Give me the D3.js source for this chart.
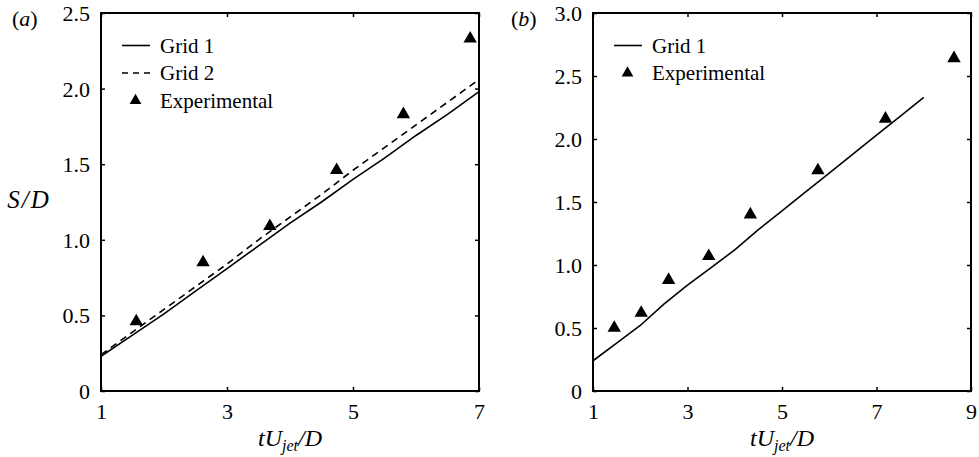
<!DOCTYPE html>
<html>
<head>
<meta charset="utf-8">
<script src="https://cdn.jsdelivr.net/npm/d3@7"></script>
</head>
<body style="margin:0;padding:0;background:#fff">
<svg id="chart" width="979" height="457" font-family="Liberation Serif"></svg>
<script>
// ---- Data ----
// Panel (a)
const aXTicks = [1, 3, 5, 7];
const aYTicks = [0, 0.5, 1.0, 1.5, 2.0, 2.5];
const aYTickLabels = ["0", "0.5", "1.0", "1.5", "2.0", "2.5"];
const aGrid1X = [1, 1.5, 2, 2.5, 3, 3.5, 4, 4.5, 5, 5.5, 6, 6.5, 7];
const aGrid1Y = [0.23, 0.37, 0.51, 0.66, 0.81, 0.96, 1.11, 1.25, 1.40, 1.54, 1.69, 1.83, 1.98];
const aGrid2X = [1, 1.5, 2, 2.5, 3, 3.5, 4, 4.5, 5, 5.5, 6, 6.5, 7];
const aGrid2Y = [0.24, 0.39, 0.54, 0.69, 0.84, 1.00, 1.15, 1.30, 1.46, 1.61, 1.76, 1.91, 2.06];
const aExpX = [1.56, 2.62, 3.68, 4.74, 5.80, 6.86];
const aExpY = [0.46, 0.85, 1.09, 1.46, 1.83, 2.33];

// Panel (b)
const bXTicks = [1, 3, 5, 7, 9];
const bYTicks = [0, 0.5, 1.0, 1.5, 2.0, 2.5, 3.0];
const bYTickLabels = ["0", "0.5", "1.0", "1.5", "2.0", "2.5", "3.0"];
const bGrid1X = [1, 1.5, 2, 2.5, 3, 3.5, 4, 4.5, 5, 5.5, 6, 6.5, 7, 7.5, 8];
const bGrid1Y = [0.24, 0.38, 0.52, 0.69, 0.84, 0.98, 1.12, 1.28, 1.43, 1.58, 1.73, 1.88, 2.03, 2.18, 2.33];
const bExpX = [1.45, 2.02, 2.60, 3.45, 4.33, 5.76, 7.19, 8.64];
const bExpY = [0.50, 0.62, 0.88, 1.07, 1.40, 1.75, 2.16, 2.64];

const FONT = "Liberation Serif";
const svg = d3.select("#chart");

function zip(xs, ys) { return xs.map((x, i) => ({ x: x, y: ys[i] })); }

function panel(opts) {
  const { left, right, top, bottom, xDomain, yDomain, xTicks, yTicks, yTickLabels,
          lines, exp, legend, tag, tagX } = opts;
  const x = d3.scaleLinear().domain(xDomain).range([left, right]);
  const y = d3.scaleLinear().domain(yDomain).range([bottom, top]);
  const g = svg.append("g");
  const tickLen = 4;

  const bottomAxis = d3.axisBottom(x).tickValues(xTicks).tickSize(-tickLen).tickPadding(12).tickFormat(d3.format("d"));
  const topAxis = d3.axisTop(x).tickValues(xTicks).tickSize(-tickLen).tickFormat("");
  const leftAxis = d3.axisLeft(y).tickValues(yTicks).tickSize(-tickLen).tickPadding(11)
    .tickFormat((d, i) => yTickLabels[i]);
  const rightAxis = d3.axisRight(y).tickValues(yTicks).tickSize(-tickLen).tickFormat("");

  const gb = g.append("g").attr("transform", `translate(0,${bottom})`).call(bottomAxis);
  const gt = g.append("g").attr("transform", `translate(0,${top})`).call(topAxis);
  const gl = g.append("g").attr("transform", `translate(${left},0)`).call(leftAxis);
  const gr = g.append("g").attr("transform", `translate(${right},0)`).call(rightAxis);
  [gb, gt, gl, gr].forEach(a => {
    a.attr("font-family", FONT).attr("font-size", 22);
    a.select(".domain").remove();
    a.selectAll(".tick line").attr("stroke", "#000").attr("stroke-width", 1.5);
    a.selectAll("text").attr("font-family", FONT).attr("font-size", 22).attr("fill", "#000");
  });
  gb.selectAll(".tick text").attr("dy", "0.71em");
  gl.selectAll(".tick text").attr("dy", "0.34em");

  g.append("rect").attr("x", left).attr("y", top).attr("width", right - left).attr("height", bottom - top)
    .attr("fill", "none").attr("stroke", "#000").attr("stroke-width", 2);

  const line = d3.line().x(d => x(d.x)).y(d => y(d.y));
  lines.forEach(l => {
    g.append("path").datum(l.data).attr("d", line).attr("fill", "none")
      .attr("stroke", "#000").attr("stroke-width", 1.6)
      .attr("stroke-dasharray", l.dash || null);
  });

  const tri = d3.symbol().type(d3.symbolTriangle).size(78);
  g.selectAll("path.exp").data(exp).join("path").attr("class", "exp")
    .attr("d", tri).attr("transform", d => `translate(${x(d.x)},${y(d.y)})`).attr("fill", "#000");

  legend.forEach((item, i) => {
    const ly = legend.y0 + i * 27.5;
    if (item.type === "line") {
      g.append("line").attr("x1", legend.x0).attr("x2", legend.x0 + 28).attr("y1", ly).attr("y2", ly)
        .attr("stroke", "#000").attr("stroke-width", 1.6).attr("stroke-dasharray", item.dash || null);
    } else {
      g.append("path").attr("d", d3.symbol().type(d3.symbolTriangle).size(60))
        .attr("transform", `translate(${legend.x0 + 13.5},${ly})`).attr("fill", "#000");
    }
    g.append("text").attr("x", legend.x0 + 38).attr("y", ly + 7)
      .attr("font-family", FONT).attr("font-size", 21).text(item.label);
  });

  const t = g.append("text").attr("x", tagX).attr("y", 26).attr("font-family", FONT).attr("font-size", 22);
  t.append("tspan").text("(");
  t.append("tspan").attr("font-style", "italic").text(tag);
  t.append("tspan").text(")");

  const cx = (left + right) / 2;
  const xl = g.append("text").attr("x", cx).attr("y", 446).attr("text-anchor", "middle")
    .attr("font-family", FONT).attr("font-size", 24).attr("font-style", "italic");
  xl.append("tspan").text("tU");
  xl.append("tspan").attr("dy", 5).attr("font-size", 16).text("jet");
  xl.append("tspan").attr("dy", -5).text("/D");
  return { x, y };
}

const legA = [
  { type: "line", label: "Grid 1" },
  { type: "line", label: "Grid 2", dash: "6,5" },
  { type: "tri", label: "Experimental" }
];
legA.x0 = 122; legA.y0 = 45.5;
panel({
  left: 101, right: 479, top: 13, bottom: 391,
  xDomain: [1, 7], yDomain: [0, 2.5], xTicks: aXTicks, yTicks: aYTicks, yTickLabels: aYTickLabels,
  lines: [{ data: zip(aGrid1X, aGrid1Y) }, { data: zip(aGrid2X, aGrid2Y), dash: "7,5" }],
  exp: zip(aExpX, aExpY), legend: legA, tag: "a", tagX: 12
});

const legB = [
  { type: "line", label: "Grid 1" },
  { type: "tri", label: "Experimental" }
];
legB.x0 = 614; legB.y0 = 45.5;
panel({
  left: 593, right: 971, top: 13, bottom: 391,
  xDomain: [1, 9], yDomain: [0, 3], xTicks: bXTicks, yTicks: bYTicks, yTickLabels: bYTickLabels,
  lines: [{ data: zip(bGrid1X, bGrid1Y) }],
  exp: zip(bExpX, bExpY), legend: legB, tag: "b", tagX: 511
});

const yl = svg.append("text").attr("x", 28).attr("y", 208).attr("text-anchor", "middle")
  .attr("font-family", FONT).attr("font-size", 25).attr("font-style", "italic");
yl.append("tspan").text("S");
yl.append("tspan").attr("dx", 2).text("/");
yl.append("tspan").attr("dx", 2).text("D");
</script>
</body>
</html>
